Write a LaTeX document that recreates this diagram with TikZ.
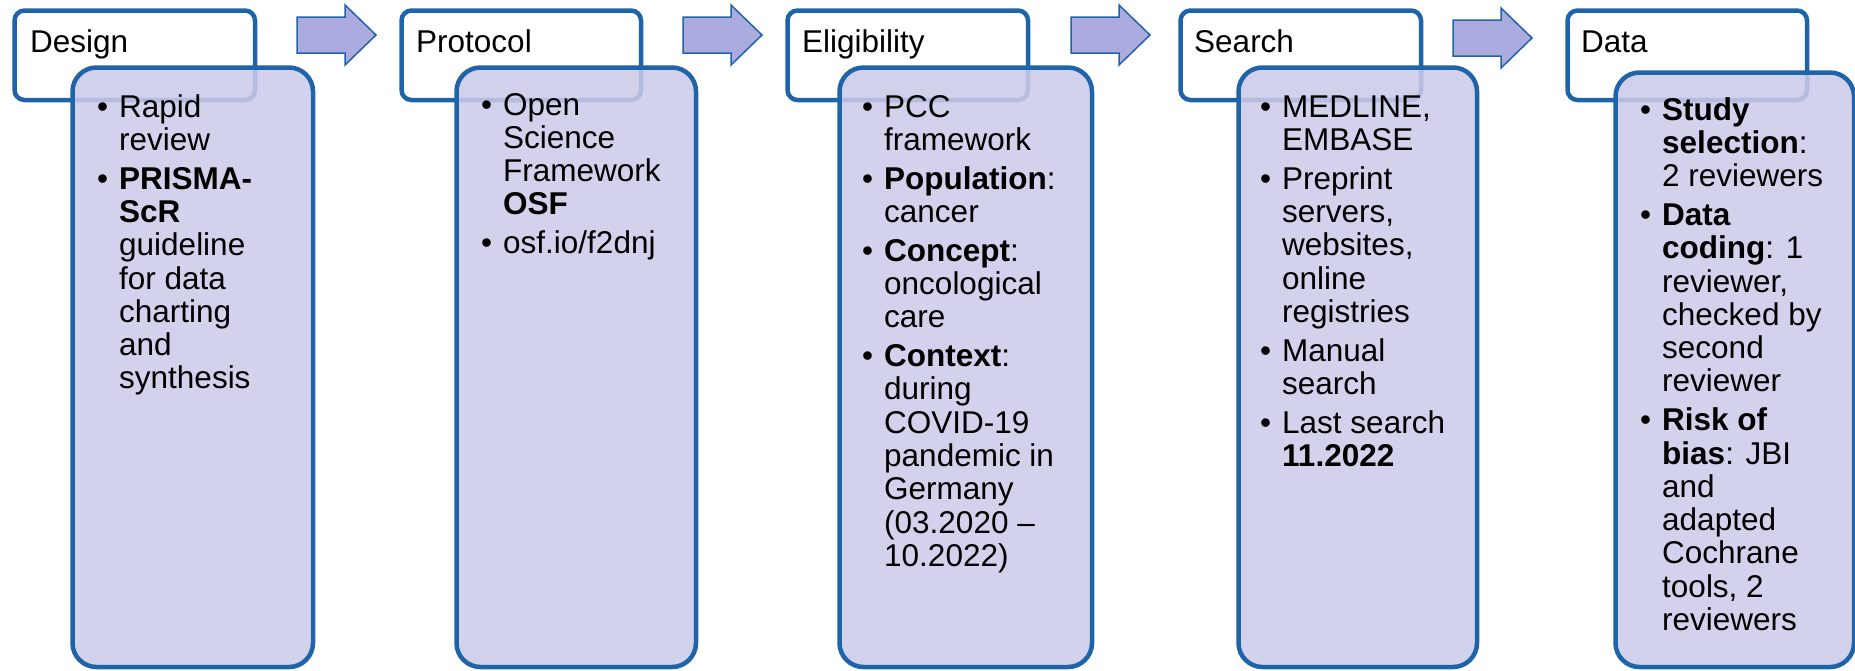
\documentclass[tikz,border=0pt]{standalone}
\usepackage{fontspec}
\setmainfont{Liberation Sans}

\definecolor{edgeblue}{RGB}{31,100,168}
\definecolor{bodyfill}{RGB}{203,203,233}
\definecolor{arrowfill}{RGB}{171,171,223}

% bullet list set in a top-aligned parbox: bullet box 22pt, hanging indent 22pt
\newcommand\bullist[1]{\parbox[t]{230pt}{\fontsize{31.5}{33.3}\selectfont
  \parskip=5.5pt #1}}
\newcommand\bitem[1]{\par\hangindent=22pt\hangafter=1\noindent
  \makebox[22pt][l]{\textbullet}#1\par}

\tikzset{
  head/.style={draw=edgeblue, line width=4.5pt, rounded corners=10pt,
    fill=white, anchor=north west, inner sep=0pt, minimum height=89.5pt},
  panel/.style={draw=edgeblue, line width=4.5pt, rounded corners=24pt,
    fill=bodyfill, fill opacity=0.87, anchor=north west, inner sep=0pt},
  title/.style={anchor=base west, inner sep=0pt,
    font=\fontsize{31.5}{33.3}\selectfont},
  items/.style={anchor=base west, inner sep=0pt},
  flow/.style={draw=edgeblue, line width=1.5pt, fill=arrowfill,
    line join=miter},
  flowarrow/.pic={
    \draw[flow] (0,-18) -- (48,-18) -- (48,-30) -- (79,0) -- (48,30)
      -- (48,18) -- (0,18) -- cycle;
  }
}

\begin{document}
\begin{tikzpicture}[x=1pt, y=-1pt]
\useasboundingbox (0,0) rectangle (1855,670);

% block arrows between the stages
\pic at (297,35) {flowarrow};
\pic at (683,35) {flowarrow};
\pic at (1071,35) {flowarrow};
\pic at (1453,38) {flowarrow};

% stage headers
\node[head, minimum width=240.5pt] (h1) at (12.25,8.25) {};
\node[head, minimum width=239.5pt] (h2) at (399.25,8.25) {};
\node[head, minimum width=240.5pt] (h3) at (785.25,8.25) {};
\node[head, minimum width=240.5pt] (h4) at (1178.25,8.25) {};
\node[head, minimum width=239.5pt] (h5) at (1565.25,8.25) {};

\node[title] (t1) at (30,52) {Design};
\node[title] (t2) at (416,52) {Protocol};
\node[title] (t3) at (802,52) {Eligibility};
\node[title] (t4) at (1194,52) {Search};
\node[title] (t5) at (1581,52) {Data};

% detail panels, overlapping the headers
\node[panel, minimum width=240.5pt, minimum height=599.5pt] (b1) at (70.25,65.25) {};
\node[panel, minimum width=239.5pt, minimum height=599.5pt] (b2) at (454.25,65.25) {};
\node[panel, minimum width=252.5pt, minimum height=599.5pt] (b3) at (837.25,65.25) {};
\node[panel, minimum width=238.5pt, minimum height=599.5pt] (b4) at (1236.25,65.25) {};
\node[panel, minimum width=238.5pt, minimum height=594.5pt] (b5) at (1613.25,70.25) {};

% panel contents
\node[items] (l1) at (97,117) {\bullist{%
  \bitem{Rapid\\review}
  \bitem{\textbf{PRISMA-}\\\textbf{ScR}\\guideline\\for data\\charting\\and\\synthesis}}};

\node[items] (l2) at (481,115) {\bullist{%
  \bitem{Open\\Science\\Framework\\\textbf{OSF}}
  \bitem{osf.io/f2dnj}}};

\node[items] (l3) at (862,117) {\bullist{%
  \bitem{PCC\\framework}
  \bitem{\textbf{Population}:\\cancer}
  \bitem{\textbf{Concept}:\\oncological\\care}
  \bitem{\textbf{Context}:\\during\\COVID-19\\pandemic in\\Germany\\(03.2020 --\\10.2022)}}};

\node[items] (l4) at (1260,117) {\bullist{%
  \bitem{MEDLINE,\\EMBASE}
  \bitem{Preprint\\servers,\\websites,\\online\\registries}
  \bitem{Manual\\search}
  \bitem{Last search\\\textbf{11.2022}}}};

\node[items] (l5) at (1640,120) {\bullist{%
  \bitem{\textbf{Study}\\\textbf{selection}:\\2 reviewers}
  \bitem{\textbf{Data}\\\textbf{coding}: 1\\reviewer,\\checked by\\second\\reviewer}
  \bitem{\textbf{Risk of}\\\textbf{bias}: JBI\\and\\adapted\\Cochrane\\tools, 2\\reviewers}}};
\end{tikzpicture}
\end{document}
